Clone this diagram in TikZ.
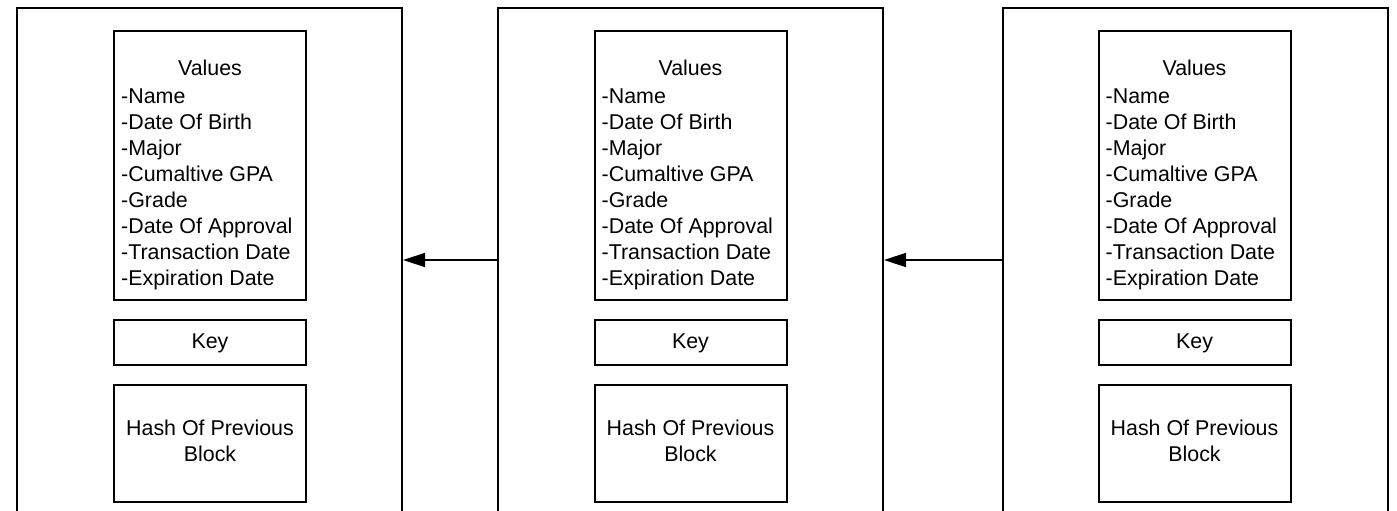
\documentclass[tikz,border=0pt]{standalone}
\usepackage{fontspec}
\setmainfont{Liberation Sans}
\usetikzlibrary{arrows.meta}
\begin{document}
\begin{tikzpicture}[x=1pt,y=-1pt,
  outer/.style={draw, line width=2pt, minimum width=385pt, minimum height=504pt, inner sep=0pt},
  ibox/.style={draw, line width=2pt, minimum width=192pt, inner sep=0pt},
  txt/.style={font=\fontsize{21.4}{26}\selectfont, inner sep=0pt, text=black},
  arr/.style={line width=1.5pt, -{Triangle[length=22pt,width=14pt]}}]
\useasboundingbox (0,0) rectangle (1397,511);
\clip (0,0) rectangle (1397,511);
\foreach \i/\cx/\vx in {1/209.5/210, 2/690.5/690.5, 3/1195/1194.5}{
  \node[outer] (b\i) at (\cx,260) {};
  \node[ibox, minimum height=269pt] (v\i) at (\vx,165.5) {};
  \node[ibox, minimum height=45pt] (k\i) at (\vx,342.5) {};
  \node[ibox, minimum height=117pt] (h\i) at (\vx,443.5) {};
  \node[txt, anchor=base] (vt\i) at (\vx,75) {Values};
  \foreach \j/\t in {0/-Name,1/-Date Of Birth,2/-Major,3/-Cumaltive GPA,4/-Grade,5/-Date Of Approval,6/-Transaction Date,7/-Expiration Date}{
    \node[txt, anchor=base west] (l\i-\j) at ({\vx-89},{103+26*\j}) {\t};
  }
  \node[txt, anchor=base] (kt\i) at (\vx,348) {Key};
  \node[txt, anchor=base] (ha\i) at (\vx,435) {Hash Of Previous};
  \node[txt, anchor=base] (hb\i) at (\vx,461) {Block};
}
\draw[arr] (b2.west) -- (b1.east);
\draw[arr] (b3.west) -- (b2.east);
\end{tikzpicture}
\end{document}
